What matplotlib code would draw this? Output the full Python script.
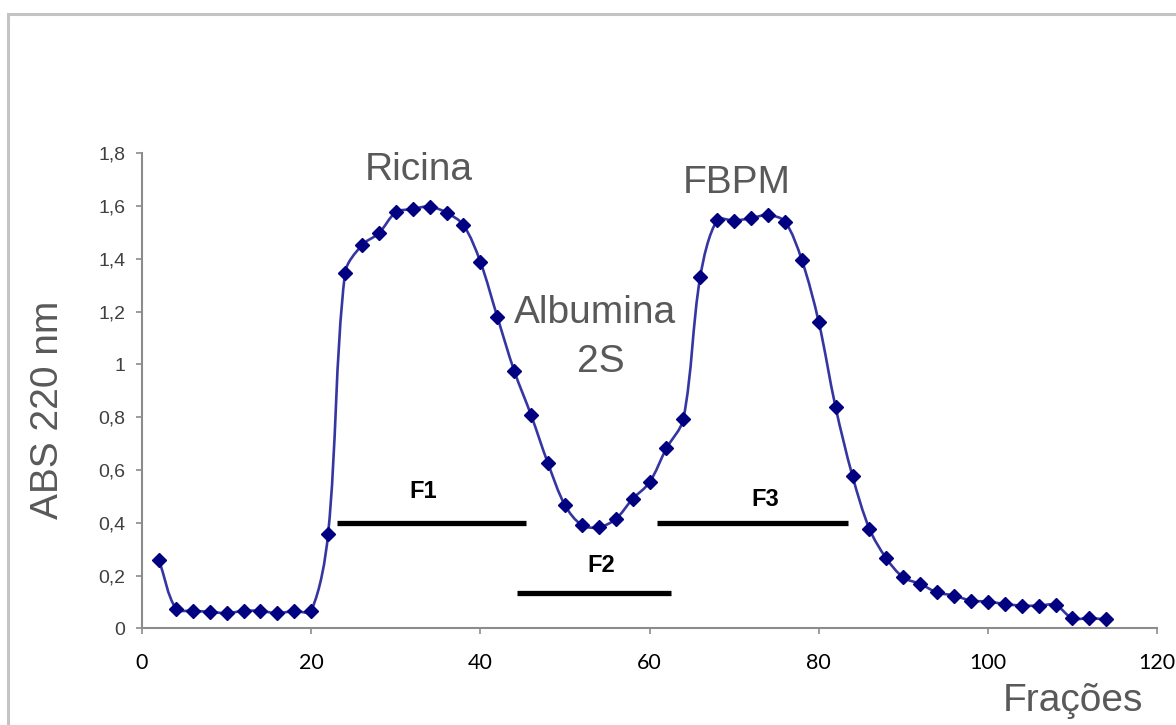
"""Cromatografia: perfil de absorbância (ABS 220 nm) das frações."""

import numpy as np
import matplotlib
matplotlib.use("Agg")
import matplotlib.pyplot as plt
from matplotlib.path import Path
from matplotlib.patches import PathPatch, Rectangle

# dados
fracoes = [2, 4, 6, 8, 10, 12, 14, 16, 18, 20,
           22, 24, 26, 28, 30, 32, 34, 36, 38, 40, 42, 44, 46,
           48, 50, 52, 54, 56, 58, 60, 62, 64,
           66, 68, 70, 72, 74, 76, 78, 80, 82, 84, 86, 88,
           90, 92, 94, 96, 98, 100, 102, 104, 106, 108, 110, 112, 114]
abs220 = [0.26, 0.075, 0.066, 0.063, 0.057, 0.066, 0.066, 0.057, 0.066, 0.066,
          0.357, 1.345, 1.452, 1.497, 1.576, 1.589, 1.598, 1.575, 1.528, 1.389, 1.181, 0.976, 0.808,
          0.625, 0.467, 0.391, 0.383, 0.414, 0.490, 0.553, 0.682, 0.793,
          1.332, 1.547, 1.545, 1.554, 1.566, 1.541, 1.396, 1.162, 0.838, 0.577, 0.377, 0.265,
          0.193, 0.168, 0.136, 0.124, 0.105, 0.101, 0.092, 0.086, 0.086, 0.088, 0.038, 0.038, 0.034]

yticks = [0, 0.2, 0.4, 0.6, 0.8, 1.0, 1.2, 1.4, 1.6, 1.8]
ytick_labels = ["0", "0,2", "0,4", "0,6", "0,8", "1", "1,2", "1,4", "1,6", "1,8"]
xticks = [0, 20, 40, 60, 80, 100, 120]

# faixas das frações (início, fim, nível)
faixas = {"F1": (23.1, 45.4, 0.40), "F2": (44.3, 62.6, 0.133), "F3": (60.9, 83.5, 0.40)}
faixa_rotulos = {"F1": (33.2, 0.493), "F2": (54.3, 0.212), "F3": (73.7, 0.465)}
picos = {"Ricina": (32.7, 1.699), "FBPM": (70.3, 1.648),
         "Albumina": (53.6, 1.156), "2S": (54.3, 0.972)}


def curva_suave(ax, x, y):
    """Linha suavizada no estilo do Excel (Bezier com tangentes ponderadas pela distância em tela)."""
    p = ax.transData.transform(np.column_stack([x, y]))
    n = len(p)
    verts = [p[0]]
    codes = [Path.MOVETO]
    for i in range(n - 1):
        p0 = p[i - 1] if i > 0 else p[i]
        p1, p2 = p[i], p[i + 1]
        p3 = p[i + 2] if i + 2 < n else p[i + 1]
        d01 = np.hypot(*(p1 - p0))
        d12 = np.hypot(*(p2 - p1))
        d23 = np.hypot(*(p3 - p2))
        f1 = d12 / (d01 + d12) / 3 if d01 + d12 > 0 else 0
        f2 = d12 / (d12 + d23) / 3 if d12 + d23 > 0 else 0
        verts += [p1 + (p2 - p0) * f1, p2 - (p3 - p1) * f2, p2]
        codes += [Path.CURVE4] * 3
    verts = ax.transData.inverted().transform(np.array(verts))
    return Path(verts, codes)


W, H = 1176, 725
fig = plt.figure(figsize=(W / 100, H / 100), dpi=100)
ax = fig.add_axes([142 / W, 1 - 628.3 / H, (1157 - 142) / W, (628.3 - 153.3) / H])
ax.set_xlim(0, 120)
ax.set_ylim(0, 1.8)

# moldura cinza da área do gráfico
fig.patches.append(Rectangle((8 / W, -0.1), 1.2, 1 - 14 / H + 0.1, transform=fig.transFigure,
                             fill=False, edgecolor="#c4c4c4", linewidth=2.2, zorder=0))

ax.add_patch(PathPatch(curva_suave(ax, fracoes, abs220), fill=False, edgecolor="#3636a3",
                       linewidth=1.9, zorder=3))
ax.plot(fracoes, abs220, linestyle="none", marker="D", markersize=7,
        color="#000080", zorder=4)

for nome, (x0, x1, nivel) in faixas.items():
    ax.hlines(nivel, x0, x1, color="black", linewidth=3.8, zorder=2)
    tx, ty = faixa_rotulos[nome]
    ax.text(tx, ty, nome, ha="center", va="baseline", fontsize=17, fontweight="bold",
            family="Liberation Sans", color="black")

for nome, (tx, ty) in picos.items():
    ax.text(tx, ty, nome, ha="center", va="baseline", fontsize=28,
            family="Liberation Sans", color="#595959")

ax.set_xticks(xticks)
ax.set_xticklabels([str(v) for v in xticks], family="Lato", fontsize=15.5, color="black")
ax.set_yticks(yticks)
ax.set_yticklabels(ytick_labels, family="Liberation Sans", fontsize=14, color="#404040")

for lado in ("top", "right"):
    ax.spines[lado].set_visible(False)
for lado in ("left", "bottom"):
    ax.spines[lado].set_color("#8c8c8c")
    ax.spines[lado].set_linewidth(1.5)
ax.tick_params(axis="x", direction="out", length=4.5, width=1.2, color="#8c8c8c", pad=13)
ax.tick_params(axis="y", direction="out", length=4, width=1.2, color="#8c8c8c", pad=8)

fig.text(48 / W, 1 - 410 / H, "ABS 220 nm", rotation=90, ha="center", va="center",
         fontsize=28, family="Liberation Sans", color="#595959")
fig.text(1073 / W, 1 - 711 / H, "Frações", ha="center", va="baseline",
         fontsize=28, family="Liberation Sans", color="#595959")

fig.savefig("out.png", dpi=100)
